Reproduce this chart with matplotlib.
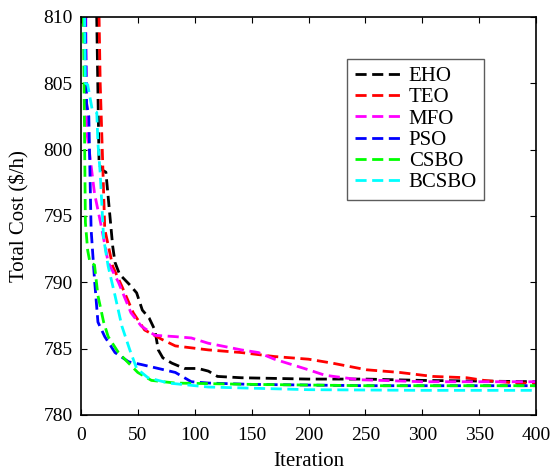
import matplotlib
matplotlib.use("Agg")
import matplotlib.pyplot as plt

# Convergence data (iteration, total cost)
eho_x = [1, 13, 16, 18, 22, 28, 30, 34, 43, 49, 54, 60, 65, 68, 72, 80, 91, 103, 112, 120, 141, 200, 250, 300, 400]
eho_y = [830, 815, 799, 798.5, 798.3, 792.7, 791.5, 790.6, 789.8, 789.2, 787.9, 787.3, 786.4, 784.9, 784.3, 783.9, 783.5, 783.5, 783.3, 782.9, 782.8, 782.7, 782.7, 782.6, 782.5]

teo_x = [1, 15, 17, 21, 28, 36, 46, 56, 71, 83, 112, 141, 170, 200, 221, 251, 280, 309, 339, 354, 383, 400]
teo_y = [830, 815, 805, 794.0, 791.2, 789.7, 787.7, 786.4, 785.7, 785.2, 784.9, 784.7, 784.4, 784.2, 783.9, 783.4, 783.2, 782.9, 782.8, 782.6, 782.4, 782.4]

mfo_x = [1, 4, 5, 8, 12, 18, 24, 33, 44, 53, 65, 83, 97, 112, 141, 156, 170, 185, 200, 214, 222, 245, 300, 400]
mfo_y = [830, 815, 801.5, 799.5, 796.7, 794.2, 791.5, 790.0, 787.7, 786.7, 786.0, 785.9, 785.8, 785.4, 784.9, 784.7, 784.2, 783.8, 783.4, 783.0, 782.9, 782.65, 782.5, 782.5]

pso_x = [1, 3, 5, 7, 9, 12, 15, 21, 30, 42, 53, 68, 83, 97, 112, 150, 250, 400]
pso_y = [830, 815, 803.5, 802.5, 794.0, 790.2, 787.0, 785.9, 784.7, 784.0, 783.8, 783.5, 783.2, 782.5, 782.4, 782.3, 782.2, 782.2]

csbo_x = [1, 2, 4, 6, 8, 12, 15, 20, 24, 33, 42, 50, 62, 83, 150, 250, 400]
csbo_y = [830, 812, 794.5, 792.4, 791.5, 791.3, 789.0, 787.0, 785.9, 784.7, 783.9, 783.2, 782.6, 782.4, 782.3, 782.2, 782.2]

bcsbo_x = [1, 3, 4, 6, 10, 14, 15, 17, 20, 24, 30, 36, 43, 49, 59, 77, 112, 200, 300, 400]
bcsbo_y = [830, 812, 805.0, 804.9, 803.0, 802.8, 800.5, 798.2, 793.3, 791.2, 789.0, 786.7, 784.9, 783.5, 782.8, 782.4, 782.1, 781.9, 781.85, 781.85]

names = ["EHO", "TEO", "MFO", "PSO", "CSBO", "BCSBO"]
colors = ["#000000", "#ff0000", "#ff00ff", "#0000ff", "#00ff00", "#00ffff"]
xs = [eho_x, teo_x, mfo_x, pso_x, csbo_x, bcsbo_x]
ys = [eho_y, teo_y, mfo_y, pso_y, csbo_y, bcsbo_y]

plt.rcParams['font.family'] = ['Liberation Serif', 'DejaVu Serif']

fig = plt.figure(figsize=(5.5, 4.72), dpi=100)
ax = fig.add_axes([0.147, 0.121, 0.828, 0.843])

for x, y, c, n in zip(xs, ys, colors, names):
    ax.plot(x, y, linestyle=(0, (4, 2)), color=c, linewidth=2.0, label=n)

ax.set_xlim(0, 400)
ax.set_ylim(780, 810)
ax.set_xticks(range(0, 401, 50))
ax.set_yticks(range(780, 811, 5))
ax.tick_params(direction='in', top=True, right=True, labelsize=14, length=4)
ax.tick_params(axis='x', pad=8.5)
ax.tick_params(axis='y', pad=6)
for s in ax.spines.values():
    s.set_linewidth(1.2)
ax.set_xlabel("Iteration", fontsize=15, labelpad=6)
ax.set_ylabel("Total Cost ($/h)", fontsize=15, labelpad=10)

leg = ax.legend(loc='upper right', bbox_to_anchor=(0.886, 0.894), fontsize=15,
                frameon=True, fancybox=False, edgecolor='#333333',
                handlelength=2.2, labelspacing=0.08, borderpad=0.35, handletextpad=0.4,
                borderaxespad=0)
leg.get_frame().set_linewidth(1.0)

fig.savefig("out.png", dpi=100)
